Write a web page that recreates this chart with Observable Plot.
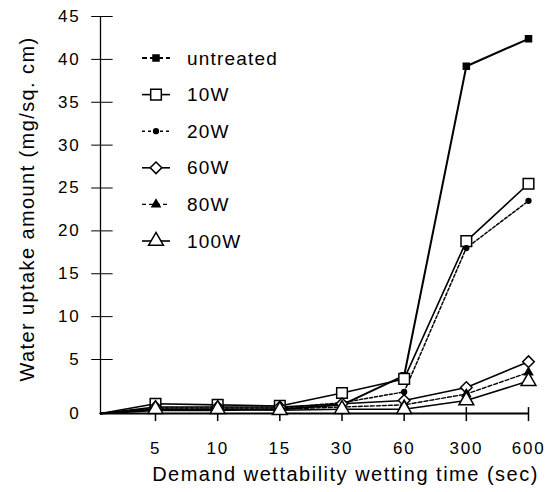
<!DOCTYPE html>
<html><head><meta charset="utf-8">
<script src="https://cdn.jsdelivr.net/npm/d3@7"></script>
<script src="https://cdn.jsdelivr.net/npm/@observablehq/plot@0.6"></script>
<style>
body{margin:0;background:#fff;}
#chart{position:relative;width:550px;height:492px;font-family:"Liberation Sans",Arial,sans-serif;}
#legend{position:absolute;left:130px;top:40px;}
</style></head><body><div id="chart"></div>
<script>
// ---- data ----
const times = [0, 5, 10, 15, 30, 60, 300, 600];
const timeLabels = ["", "5", "10", "15", "30", "60", "300", "600"];
const seriesNames = ["untreated", "10W", "20W", "60W", "80W", "100W"];
const untreated = [0, 0.3, 0.3, 0.4, 0.8, 3.5, 39.2, 42.4];
const w10  = [0, 0.9, 0.8, 0.7, 1.9, 3.2, 18.8, 25.5];
const w20  = [0, 0.5, 0.5, 0.5, 1.0, 2.0, 18.0, 23.5];
const w60  = [0, 0.6, 0.6, 0.6, 0.9, 1.2, 2.4, 4.8];
const w80  = [0, 0.4, 0.4, 0.4, 0.6, 0.8, 1.8, 3.8];
const w100 = [0, 0.4, 0.4, 0.3, 0.4, 0.4, 1.2, 3.0];
const yTicks = [0, 5, 10, 15, 20, 25, 30, 35, 40, 45];
const yTickLabels = ["0", "5", "10", "15", "20", "25", "30", "35", "40", "45"];
const xTitle = "Demand wettability wetting time (sec)";
const yTitle = "Water uptake amount (mg/sq. cm)";

const seriesValues = [untreated, w10, w20, w60, w80, w100];
const styles = {
  "untreated": {symbol: "square",   fill: "black", r: 3.4, dash: null,  sw: 2,   legDash: "5,3"},
  "10W":       {symbol: "square",   fill: "white", r: 6.0, dash: null,  sw: 1.6, legDash: null},
  "20W":       {symbol: "circle",   fill: "black", r: 2.4, dash: "3,2", sw: 1.5, legDash: "3,3"},
  "60W":       {symbol: "diamond2", fill: "white", r: 5.2, dash: null,  sw: 1.6, legDash: null},
  "80W":       {symbol: "triangle", fill: "black", r: 3.0, dash: "4,2", sw: 1.4, legDash: "4,3"},
  "100W":      {symbol: "triangle", fill: "white", r: 5.5, dash: null,  sw: 1.6, legDash: null}
};

const rows = [];
seriesNames.forEach((s, i) => times.forEach((t, j) => rows.push({series: s, time: t, value: seriesValues[i][j]})));

// ---- layout ----
const W = 550, H = 492, mL = 100, mR = 22, mT = 16, mB = 79;
const firstGap = 55, zeroGap = 54;
const xRange = times.map((t, j) => j === 0 ? mL : mL + firstGap + (j - 1) * (W - mR - mL - firstGap) / (times.length - 2));
const yRange = [H - mB, H - mB - zeroGap, mT];

const marks = [
  Plot.ruleX([0], {y1: 0, y2: 45, stroke: "black", strokeWidth: 1.3}),
  Plot.ruleY(yTicks.slice(1), {y: d => d, x1: -0.8, x2: 1.15, stroke: "black", strokeWidth: 1}),
  Plot.ruleX(times.slice(1), {x: d => d, y1: -0.75, y2: 0.55, stroke: "black", strokeWidth: 1.5}),
  Plot.ruleY([0], {x1: 0, x2: 600, stroke: "black", strokeWidth: 1.8}),
  Plot.axisY({ticks: yTicks, tickSize: 0, tickPadding: 20, fontSize: 17, label: null,
              tickFormat: d => yTickLabels[yTicks.indexOf(d)]}),
  Plot.axisX({ticks: times.slice(1), tickSize: 0, tickPadding: 28, fontSize: 17, label: null,
              tickFormat: d => timeLabels[times.indexOf(d)]})
];
for (const s of seriesNames) {
  const st = styles[s];
  const data = rows.filter(d => d.series === s);
  marks.push(Plot.line(data, {x: "time", y: "value", stroke: "black", strokeWidth: st.sw, strokeDasharray: st.dash}));
}
for (const s of seriesNames) {
  const st = styles[s];
  const data = rows.filter(d => d.series === s && d.time > 0);
  marks.push(Plot.dot(data, {x: "time", y: "value", symbol: () => st.symbol, r: st.r, fill: st.fill, stroke: "black", strokeWidth: 1.5}));
}
marks.push(Plot.text([xTitle], {frameAnchor: "bottom", dx: 31, dy: 67, fontSize: 20, lineAnchor: "bottom", fill: "black"}));
marks.push(Plot.text([yTitle], {frameAnchor: "left", textAnchor: "middle", rotate: -90, dx: -73, dy: -6, fontSize: 20, fill: "black"}));

const chart = Plot.plot({
  width: W, height: H, marginLeft: mL, marginRight: mR, marginTop: mT, marginBottom: mB,
  style: {fontFamily: "'Liberation Sans', Arial, sans-serif", color: "black", background: "white", letterSpacing: "1.8px"},
  x: {type: "linear", domain: times, range: xRange, axis: null},
  y: {type: "linear", domain: [0, 5, 45], range: yRange, axis: null},
  symbol: {type: "identity"},
  marks
});
const root = document.getElementById("chart");
root.appendChild(chart);
d3.select(chart).selectAll("text").filter(function () { return this.textContent === xTitle; }).style("letter-spacing", "1.5px");
d3.select(chart).selectAll("text").filter(function () { return this.textContent === yTitle; }).style("letter-spacing", "1.4px");

// ---- legend ----
const lg = d3.select(root).append("svg").attr("id", "legend").attr("width", 170).attr("height", 220);
seriesNames.forEach((s, i) => {
  const st = styles[s];
  const g = lg.append("g").attr("transform", `translate(0,${18 + i * 36.6})`);
  g.append("line").attr("x1", 12).attr("x2", 40).attr("y1", 0).attr("y2", 0)
    .attr("stroke", "black").attr("stroke-width", st.sw).attr("stroke-dasharray", st.legDash);
  const sym = {square: d3.symbolSquare, circle: d3.symbolCircle, diamond2: d3.symbolDiamond2, triangle: d3.symbolTriangle}[st.symbol];
  g.append("path").attr("transform", "translate(26,0)")
    .attr("d", d3.symbol(sym, st.r * st.r * Math.PI)())
    .attr("fill", st.fill).attr("stroke", "black").attr("stroke-width", 1.5);
  g.append("text").attr("x", 57).attr("y", 0).attr("dy", "0.35em").style("letter-spacing", "1.2px")
    .attr("font-size", 19).attr("font-family", "'Liberation Sans', Arial, sans-serif").text(s);
});
</script></body></html>
